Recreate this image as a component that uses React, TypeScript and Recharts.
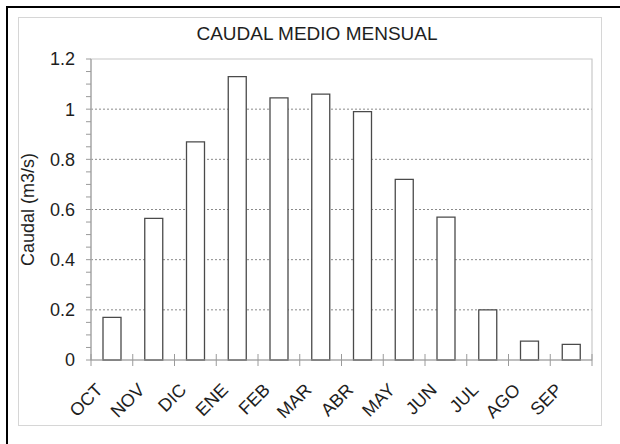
import React from 'react';
import { BarChart, Bar, XAxis, YAxis, CartesianGrid, ReferenceArea } from 'recharts';

const months = ['OCT', 'NOV', 'DIC', 'ENE', 'FEB', 'MAR', 'ABR', 'MAY', 'JUN', 'JUL', 'AGO', 'SEP'];
const caudal = [0.17, 0.565, 0.87, 1.13, 1.045, 1.06, 0.99, 0.72, 0.57, 0.2, 0.075, 0.062];
const yTicks = [0, 0.05, 0.1, 0.15, 0.2, 0.25, 0.3, 0.35, 0.4, 0.45, 0.5, 0.55, 0.6, 0.65, 0.7, 0.75, 0.8, 0.85, 0.9, 0.95, 1, 1.05, 1.1, 1.15, 1.2];
const yMajorTicks = [0, 0.2, 0.4, 0.6, 0.8, 1, 1.2];
const gridValues = [0.2, 0.4, 0.6, 0.8, 1];
const title = 'CAUDAL MEDIO MENSUAL';
const yLabel = 'Caudal (m3/s)';

const data = months.map((m, i) => ({ month: m, caudal: caudal[i] }));

const FONT = '"Liberation Sans", Arial, Helvetica, sans-serif';
const TEXT = '#1e1e1e';
const AXIS = '#9a9a9a';

const fmtY = (v: number) => {
  const major = yMajorTicks.some((t) => Math.abs(t - v) < 1e-6);
  return major ? String(Math.round(v * 10) / 10) : '';
};

const MonthTick = (props: any) => {
  const { x, y, payload, index, visibleTicksCount, width } = props;
  const half = payload && payload.offset ? payload.offset : width / visibleTicksCount / 2;
  const tx = x - 8;
  const ty = y + 31;
  return (
    <g>
      <line x1={x - half} x2={x - half} y1={y - 6} y2={y + 6} stroke={AXIS} strokeWidth={1} />
      {index === visibleTicksCount - 1 && (
        <line x1={x + half} x2={x + half} y1={y - 6} y2={y + 6} stroke={AXIS} strokeWidth={1} />
      )}
      <text
        x={tx}
        y={ty}
        transform={`rotate(-45 ${tx} ${ty})`}
        textAnchor="end"
        fontSize={18}
        fontFamily={FONT}
        fill={TEXT}
      >
        {payload.value}
      </text>
    </g>
  );
};

const renderYLabel = (p: any) => {
  const vb = p.viewBox || { x: 21, y: 59, width: 70, height: 301 };
  const cx = vb.x + 13;
  const cy = vb.y + vb.height / 2;
  return (
    <text
      x={cx}
      y={cy}
      transform={`rotate(-90 ${cx} ${cy})`}
      textAnchor="middle"
      fontSize={18}
      fontFamily={FONT}
      fill={TEXT}
    >
      {yLabel}
    </text>
  );
};

export default function App() {
  return (
    <div style={{ position: 'absolute', left: 0, top: 0, width: 620, height: 444, background: '#fff', overflow: 'hidden' }}>
      <div
        style={{
          position: 'absolute',
          left: 6,
          top: 6,
          width: 640,
          height: 460,
          borderLeft: '2px solid #000',
          borderTop: '2px solid #000',
        }}
      />
      <div
        style={{
          position: 'absolute',
          left: 18,
          top: 17,
          width: 582,
          height: 407,
          border: '1.5px solid #d6d6d6',
        }}
      />
      <div
        style={{
          position: 'absolute',
          left: 0,
          top: 24,
          width: 634,
          textAlign: 'center',
          fontSize: 19,
          lineHeight: '19px',
          fontFamily: FONT,
          color: TEXT,
        }}
      >
        {title}
      </div>
      <div style={{ position: 'absolute', left: 0, top: 0 }}>
        <BarChart width={620} height={444} data={data} margin={{ top: 59, right: 28, bottom: 24, left: 21 }}>
          <CartesianGrid vertical={false} horizontalValues={gridValues} stroke="#8a8a8a" strokeDasharray="2 2" />
          <ReferenceArea y1={0} y2={1.2} fill="none" stroke="#c8c8c8" strokeWidth={1.2} ifOverflow="visible" />
          <XAxis
            dataKey="month"
            interval={0}
            tickLine={false}
            tickSize={0}
            tickMargin={0}
            height={60}
            axisLine={{ stroke: AXIS, strokeWidth: 1 }}
            tick={MonthTick}
          />
          <YAxis
            domain={[0, 1.2]}
            ticks={yTicks}
            interval={0}
            width={70}
            tickSize={5}
            tickMargin={11}
            tickFormatter={fmtY}
            axisLine={{ stroke: AXIS, strokeWidth: 1 }}
            tickLine={{ stroke: AXIS, strokeWidth: 1 }}
            tick={{ fontSize: 18, fontFamily: FONT, fill: TEXT }}
            label={{ value: yLabel, content: renderYLabel }}
          />
          <Bar dataKey="caudal" fill="#ffffff" stroke="#4a4a4a" strokeWidth={1.3} barSize={18} isAnimationActive={false} />
        </BarChart>
      </div>
    </div>
  );
}
